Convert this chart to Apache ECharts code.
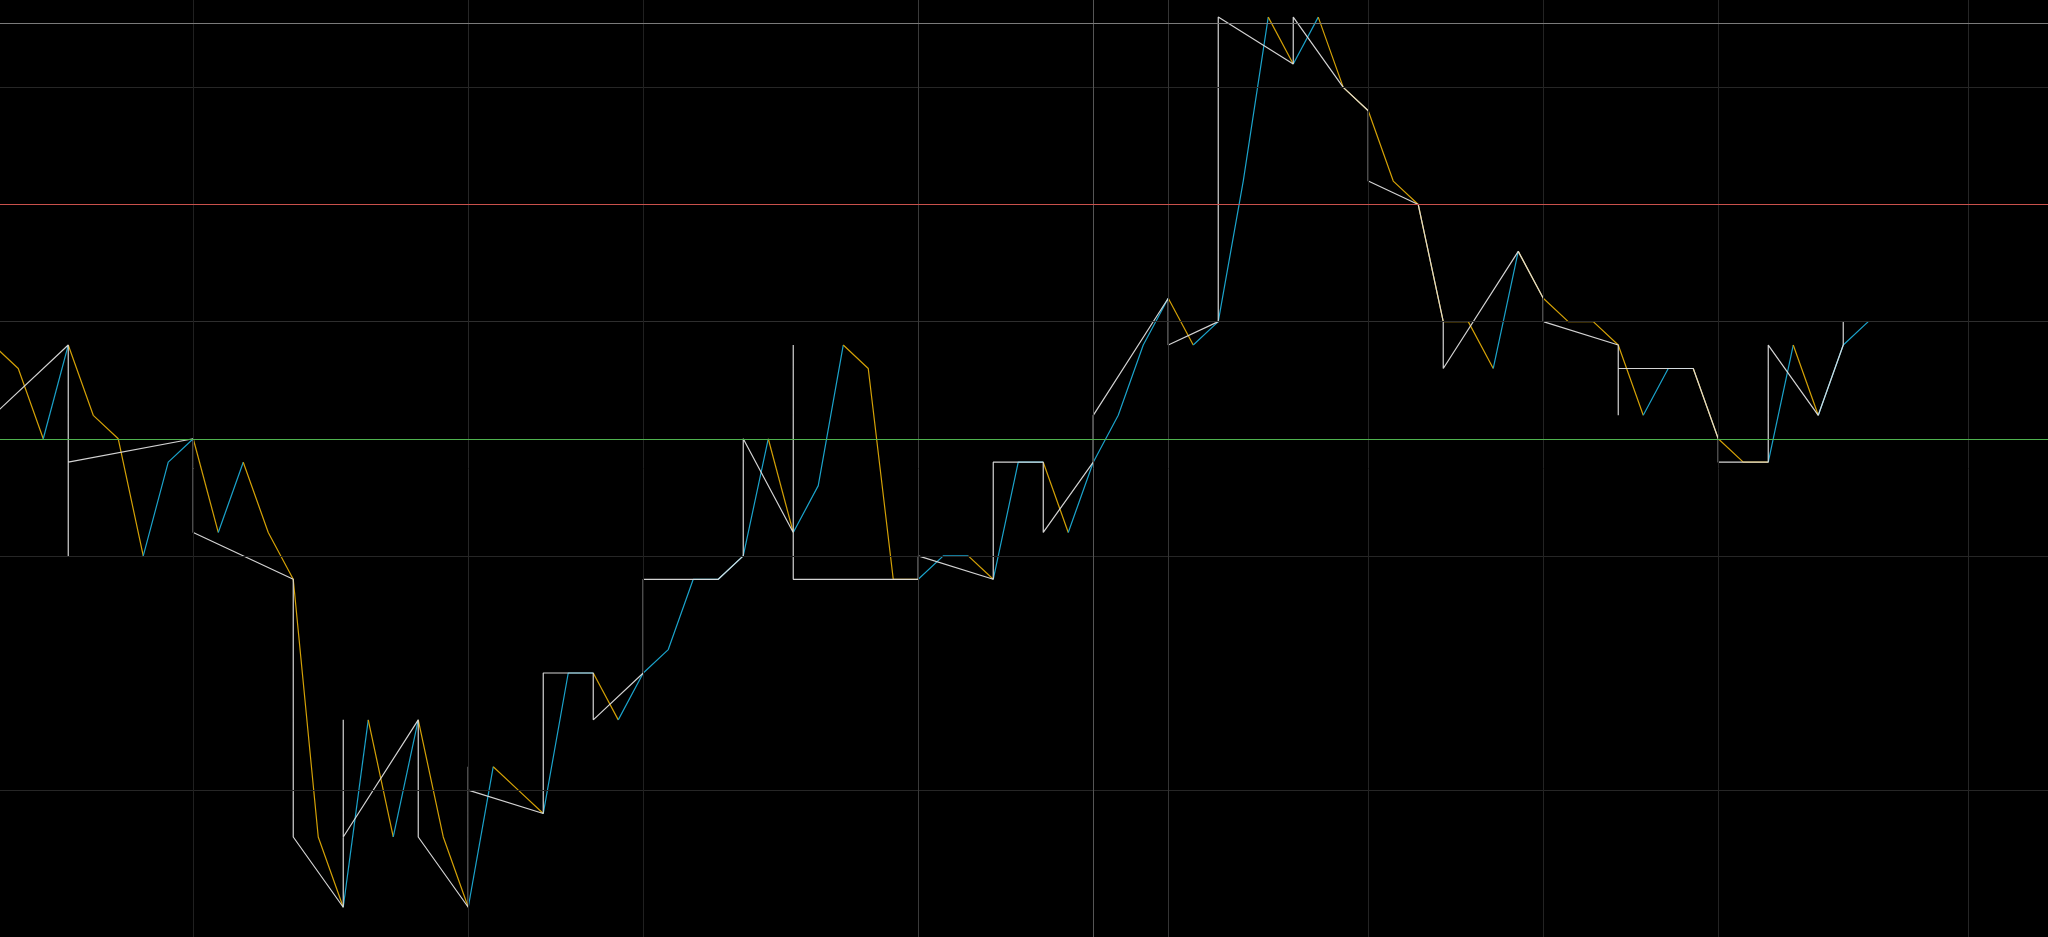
<!DOCTYPE html>
<html>
<head>
<meta charset="utf-8">
<script src="https://cdn.jsdelivr.net/npm/echarts@6/dist/echarts.min.js"></script>
<style>
html,body{margin:0;padding:0;background:#000;}
#chart{width:2048px;height:937px;}
</style>
</head>
<body>
<div id="chart"></div>
<script>
// ---- data ----
const firstIndex = -1;
const prices = [19,18,15,19,16,15,10,14,15,11,14,11,9,-2,-5,3,-2,3,-2,-5,1,0,-1,5,5,3,5,6,9,9,10,15,11,13,19,18,9,9,10,10,9,14,14,11,14,16,19,21,19,20,26,33,31,33,30,29,26,25,20,20,18,23,21,20,20,19,16,18,18,15,14,14,19,16,19,20];
const strokeX = [-1,2,2,2,7,7,11,11,13,13,13,16,16,18,18,18,21,21,23,23,25,25,28,29,29,31,31,31,36,36,39,39,41,41,43,43,46,46,48,48,51,51,53,54,54,56,57,57,60,61,61,64,64,64,67,68,68,70,70,72,73,73];
const strokeY = [16,19,10,14,15,11,9,-2,-5,3,-2,3,-2,-5,1,0,-1,5,5,3,5,9,9,10,15,11,19,9,9,10,9,14,14,11,14,16,21,19,20,33,31,33,30,29,26,25,20,18,23,21,20,19,16,18,18,15,14,14,19,16,19,20];
const gridLevels = [0,10,20,30];
const upperLevel = 32.75;
const resistLevel = 25;
const supportLevel = 15;
const vLines = [7,18,25,36,43,46,54,61,68,78];

// ---- build ----
const UP = '#1ba3cb', DOWN = '#d4a106';
const runs = [];
let prevDir = 'down';
for (let i = 0; i < prices.length - 1; i++) {
  const a = prices[i], b = prices[i+1];
  let d = b > a ? 'up' : (b < a ? 'down' : prevDir);
  prevDir = d;
  const x0 = firstIndex + i;
  if (runs.length && runs[runs.length-1].dir === d) {
    runs[runs.length-1].pts.push([x0+1, b]);
  } else {
    runs.push({dir: d, pts: [[x0, a], [x0+1, b]]});
  }
}
const vColors = {7:'#202020',18:'#262626',25:'#202020',36:'#3a3a3a',43:'#555555',46:'#343434',54:'#232323',61:'#232323',68:'#232323',78:'#262626'};

const series = [];
series.push({
  type:'line', data:[[-0.7,0]], showSymbol:false, silent:true, z:1,
  lineStyle:{opacity:0},
  markLine:{
    silent:true, symbol:['none','none'], label:{show:false}, animation:false,
    data: [
      ...gridLevels.map(v => ({yAxis:v, lineStyle:{color: v===20?'#2e2e2e':'#262626', width:1, type:'solid'}})),
      ...vLines.map(k => ({xAxis:k, lineStyle:{color:vColors[k], width:1, type:'solid'}})),
      {yAxis:upperLevel, lineStyle:{color:'#7a7a7a', width:1, type:'solid'}},
      {yAxis:resistLevel, lineStyle:{color:'#c9514c', width:1, type:'solid'}},
      {yAxis:supportLevel, lineStyle:{color:'#4fb24f', width:1, type:'solid'}}
    ]
  }
});
runs.forEach(r => {
  series.push({
    type:'line', data:r.pts, showSymbol:false, silent:true, z:3,
    lineStyle:{color: r.dir==='up'?UP:DOWN, width:1.2}
  });
});
series.push({
  type:'line', data: strokeX.map((x,i)=>[x, strokeY[i]]), showSymbol:false, silent:true, z:4,
  lineStyle:{color:'#dedede', width:1.2, opacity:0.95}
});

const chart = echarts.init(document.getElementById('chart'), null, {renderer:'canvas'});
chart.setOption({
  backgroundColor:'#000',
  animation:false,
  grid:{left:0,right:0,top:0,bottom:0},
  xAxis:{type:'value',min:-0.73,max:81.19,show:false},
  yAxis:{type:'value',min:-6.27,max:33.73,show:false},
  series: series
});
</script>
</body>
</html>
